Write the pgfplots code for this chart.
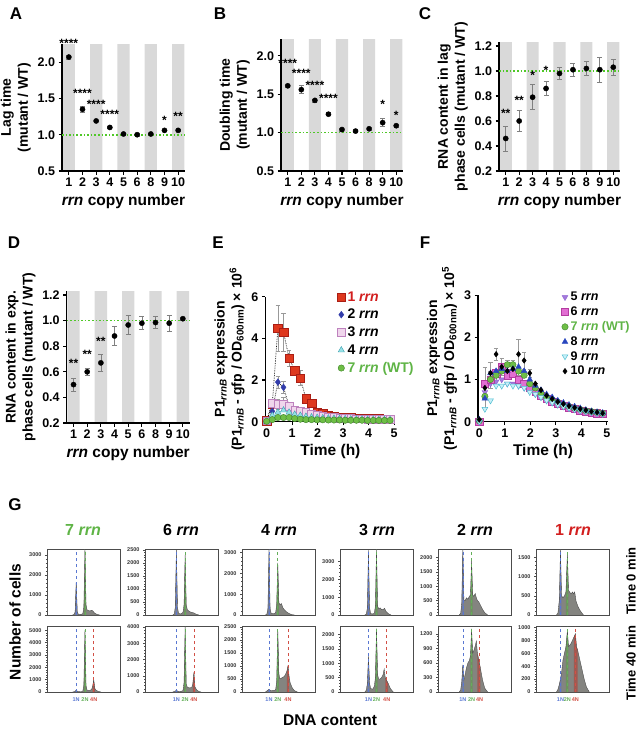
\documentclass[border=0pt]{standalone}
\usepackage{pgfplots}
\pgfplotsset{compat=1.18}
\usepackage{pgfplotstable}
\usepackage{fontspec}
\setmainfont{Liberation Sans}

\definecolor{band}{RGB}{217,217,217}
\definecolor{wtgreen}{RGB}{80,200,40}
\definecolor{ered}{RGB}{222,56,30}
\definecolor{ereddk}{RGB}{170,30,20}
\definecolor{eblue}{RGB}{50,60,170}
\definecolor{epink}{RGB}{240,214,236}
\definecolor{epinkdk}{RGB}{190,130,190}
\definecolor{ecyan}{RGB}{150,225,230}
\definecolor{ecyandk}{RGB}{60,160,175}
\definecolor{egreen}{RGB}{110,190,70}
\definecolor{egreendk}{RGB}{60,130,40}
\definecolor{fpurple}{RGB}{140,90,210}
\definecolor{fmag}{RGB}{225,110,210}
\definecolor{fmagdk}{RGB}{180,60,160}
\definecolor{fblue}{RGB}{40,70,190}
\definecolor{fcyan}{RGB}{200,240,248}
\definecolor{fcyandk}{RGB}{80,190,210}
\definecolor{txtgreen}{RGB}{95,180,70}
\definecolor{txtred}{RGB}{210,30,30}
\definecolor{hgray}{RGB}{132,132,128}
\definecolor{hdark}{RGB}{70,70,70}
\definecolor{hblue}{RGB}{115,125,160}
\definecolor{hgreen}{RGB}{110,145,95}
\definecolor{hred}{RGB}{160,90,82}
\definecolor{l1n}{RGB}{90,120,210}
\definecolor{l2n}{RGB}{100,175,90}
\definecolor{l4n}{RGB}{210,80,70}

\newcommand\tickf{\fontsize{12.5}{14}\selectfont\bfseries}
\newcommand\labf{\fontsize{14}{17}\selectfont\bfseries}
\newcommand\xlabf{\fontsize{15.5}{18}\selectfont\bfseries}
\newcommand\starf{\fontsize{12}{14}\selectfont\bfseries}
\newcommand\legf{\fontsize{14}{17}\selectfont\bfseries}
\newcommand\leggf{\fontsize{12.5}{15}\selectfont\bfseries}
\newcommand\letf{\fontsize{17}{20}\selectfont\bfseries}
\newcommand\gtickf{\fontsize{5.5}{6.5}\selectfont\bfseries}
\newcommand\gtitf{\fontsize{16}{19}\selectfont\bfseries}
\newcommand\timef{\fontsize{13}{15}\selectfont\bfseries}

% growth curves, time in h
\pgfplotstableread{
t    r1   e1   r2   e2   r3   e3   r4   r7
0    0.05 0    0.03 0    0.05 0    0.02 0.02
0.22 0.85 0.12 0.5  0.06 0.9  0.2  0.3  0.1
0.44 4.5  1.1  1.9  0.3  0.85 0.25 0.45 0.2
0.66 4.3  0.9  1.65 0.3  0.85 0.3  0.55 0.2
0.88 3.05 0.4  0.75 0.1  0.75 0.1  0.45 0.2
1.10 2.45 0.2  0.45 0    0.55 0    0.35 0.15
1.32 2.1  0.35 0.35 0    0.5  0    0.3  0.12
1.54 1.1  0.1  0.3  0    0.45 0    0.25 0.1
1.76 0.9  0.1  0.25 0    0.35 0    0.22 0.1
1.98 0.45 0.05 0.22 0    0.3  0    0.2  0.09
2.20 0.38 0    0.2  0    0.25 0    0.18 0.09
2.42 0.3  0    0.18 0    0.22 0    0.17 0.08
2.64 0.26 0    0.17 0    0.2  0    0.16 0.08
2.86 0.23 0    0.16 0    0.18 0    0.15 0.08
3.08 0.21 0    0.15 0    0.17 0    0.14 0.07
3.30 0.19 0    0.14 0    0.16 0    0.13 0.07
3.52 0.18 0    0.13 0    0.15 0    0.12 0.07
3.74 0.17 0    0.12 0    0.14 0    0.12 0.07
3.96 0.16 0    0.12 0    0.13 0    0.11 0.06
4.18 0.15 0    0.11 0    0.12 0    0.11 0.06
4.40 0.14 0    0.11 0    0.12 0    0.1  0.06
4.62 0.13 0    0.1  0    0.11 0    0.1  0.06
4.84 0.12 0    0.1  0    0.11 0    0.1  0.06
}\Edata

\pgfplotstableread{
t    s5   s6   s7   e7   s8   s9   s10  e10
0    0.00 0.00 0.02 0    0.05 0.00 0.05 0
0.22 0.70 0.90 0.60 0.30 0.55 0.30 0.80 0.50
0.44 0.90 1.00 1.00 0.20 1.15 0.50 1.15 0.25
0.66 0.95 1.15 1.10 0.15 1.20 0.85 1.60 0.15
0.88 1.00 1.30 1.20 0.10 1.25 0.85 1.30 0.20
1.10 0.90 1.10 1.35 0.10 1.20 0.90 1.20 0.15
1.32 0.90 1.15 1.35 0.10 1.25 0.85 1.25 0.20
1.54 0.85 1.00 1.20 0.10 1.30 0.85 1.60 0.35
1.76 0.80 0.90 1.10 0.05 1.20 0.80 1.45 0.20
1.98 0.75 0.80 0.90 0    1.00 0.70 1.15 0.10
2.20 0.65 0.72 0.80 0    0.85 0.65 0.90 0
2.42 0.58 0.62 0.68 0    0.75 0.58 0.75 0
2.64 0.50 0.55 0.58 0    0.65 0.50 0.62 0
2.86 0.45 0.48 0.52 0    0.58 0.45 0.54 0
3.08 0.40 0.42 0.46 0    0.50 0.40 0.47 0
3.30 0.36 0.37 0.40 0    0.45 0.36 0.42 0
3.52 0.32 0.33 0.36 0    0.40 0.32 0.37 0
3.74 0.29 0.30 0.32 0    0.36 0.29 0.33 0
3.96 0.26 0.27 0.29 0    0.32 0.26 0.30 0
4.18 0.24 0.24 0.26 0    0.28 0.24 0.27 0
4.40 0.22 0.22 0.24 0    0.25 0.22 0.24 0
4.62 0.20 0.20 0.22 0    0.23 0.20 0.22 0
4.84 0.18 0.19 0.20 0    0.21 0.18 0.20 0
}\Fdata

% DNA content histograms (x: position in box, 0-100)
\pgfplotstableread{
x y
35 0
37 30
38.5 150
40 1650
41.5 150
43 40
46 30
49 60
50.5 400
52 3300
53.5 500
55 250
57 220
59 200
61 240
63 200
65 100
68 40
72 0
}\gTa
\pgfplotstableread{
x y
35 0
38 40
40 150
42 40
46 20
49 50
50.5 600
52 5000
53.5 500
55 150
58 120
61 200
62.5 450
64 1000
65.5 300
67 150
70 60
74 0
}\gBa
\pgfplotstableread{
x y
38 0
40 40
41.5 300
43 2530
44.5 300
46 60
49 40
52 100
53.5 400
55 2300
56.5 400
58 200
61 130
64 100
67 80
70 30
74 0
}\gTb
\pgfplotstableread{
x y
38 0
41 50
43 100
45 50
49 40
52 80
53.5 600
55 4000
56.5 500
58 300
61 250
64 280
65.5 500
67 1200
68.5 300
71 120
74 30
77 0
}\gBb
\pgfplotstableread{
x y
32 0
34 40
35.5 300
37 3170
38.5 300
40 80
43 60
46 100
47.5 500
49 2500
50.5 600
52 500
54 550
56 350
58 250
61 150
64 80
68 20
72 0
}\gTc
\pgfplotstableread{
x y
32 0
35 60
37 100
39 60
43 50
46 80
47.5 400
49 2400
50.5 700
52 500
55 550
58 600
60 700
61.5 800
63 1000
64.5 600
66 350
69 150
72 50
76 0
}\gBc
\pgfplotstableread{
x y
34 0
36 40
37.5 400
39 3650
40.5 400
42 80
45 60
47 100
48.5 500
50 3700
51.5 500
53 350
55 400
57 300
59 300
61 380
63 200
66 80
70 0
}\gTd
\pgfplotstableread{
x y
34 0
36 60
37.5 300
39 1250
40.5 300
42 120
45 100
47 200
48.5 500
50 2200
51.5 600
53 450
55 450
57 500
59 600
60.5 800
62 500
64 400
66 300
69 120
73 0
}\gBd
\pgfplotstableread{
x y
29 0
31 50
32.5 400
34 2300
35.5 500
37 500
39 600
41 550
43 650
44.5 700
46 1900
47.5 700
49 650
51 750
52.5 600
54 500
56 450
58 350
61 200
64 80
68 0
}\gTe
\pgfplotstableread{
x y
29 0
31 40
32.5 200
34 560
35.5 250
37 350
39 500
41 600
43 650
44.5 750
46 1300
47.5 800
49 850
51 950
52.5 1050
54 800
56 650
58 500
61 250
64 80
68 0
}\gBe
\pgfplotstableread{
x y
28 0
30 50
32 400
33.5 1720
35 500
37 450
39 500
41 600
43 1600
44.5 650
46 600
48 550
50 600
51.5 550
53 600
55 350
58 200
61 100
65 0
}\gTf
\pgfplotstableread{
x y
28 0
30 40
32 120
33.5 200
35 300
37 500
39 600
41 700
43 950
44.5 700
46 720
48 750
50 800
52 850
54 900
55.5 700
57 650
60 500
63 350
66 200
69 80
73 0
}\gBf

\pgfplotsset{
  /pgf/number format/assume math mode=true,
  base/.style={scale only axis, anchor=south west,
    axis x line*=bottom, axis y line*=left,
    axis line style={line width=1.1pt,-},
    tick style={black, line width=1.1pt},
    tick align=outside, major tick length=3.5pt,
    ticklabel style={font=\tickf},
    ylabel style={font=\labf, align=center},
    xlabel style={font=\xlabf}, clip=false},
  catax/.style={base, xmin=-0.5, xmax=8.5, xtick={0,...,8},
    xticklabels={1,2,3,4,5,6,8,9,10},
    xlabel={\textit{rrn} copy number},
    yticklabel style={/pgf/number format/fixed, /pgf/number format/fixed zerofill, /pgf/number format/precision=1}},
  bandax/.style={scale only axis, anchor=south west, hide axis, xmin=-0.5, xmax=8.5},
  band/.style={ybar, bar width=0.9, fill=band, draw=none},
  wt/.style={wtgreen, dotted, line width=1.6pt},
  pts/.style={black, only marks, mark=*, mark size=2.6pt,
    error bars/y dir=both, error bars/y explicit,
    error bars/error bar style={black!50, line width=0.7pt},
    error bars/error mark options={rotate=90, mark size=2.5pt, black!50, line width=0.7pt}},
  ebar/.style={error bars/y dir=both, error bars/y explicit,
    error bars/error bar style={black!40, line width=0.5pt},
    error bars/error mark options={rotate=90, mark size=2.2pt, black!40, line width=0.5pt}},
  starmk/.style={black, only marks, mark=text, /pgf/text mark as node=true,
    /pgf/text mark style={font=\starf, inner sep=0pt, yshift=-2.6pt}},
  timeax/.style={base, xmin=-0.05, xmax=5.05, xtick={0,...,5}, xlabel={Time (h)}, ymin=0,
    legend cell align=left,
    legend image code/.code={\draw[mark repeat=2,mark phase=2,##1] plot coordinates {(0pt,0pt) (5pt,0pt) (10pt,0pt)};}},
  dots/.style={forget plot, black, densely dotted, line width=0.7pt},
  gax/.style={scale only axis, anchor=south west, width=73pt, height=66pt,
    xmin=0, xmax=100, ymin=0,
    axis line style={line width=0.6pt, black!70},
    xtick=\empty, ytick pos=left, tick align=outside,
    major tick length=2pt, minor tick length=1pt, minor y tick num=4,
    tick style={black!70, line width=0.4pt},
    yticklabel style={font=\gtickf, black!80},
    scaled y ticks=false,
    /pgf/number format/set thousands separator={}},
  gbx/.style={xtick style={draw=none}, xticklabel style={font=\gtickf},
    xticklabels={\textcolor{l1n}{1N},\textcolor{l2n}{2N},\textcolor{l4n}{4N}}},
}

\newcommand{\gtop}[6]{%
  \addplot[fill=hgray, draw=none] table {#1} \closedcycle;
  \addplot[fill=hblue, draw=none, restrict x to domain=#2] table {#1} \closedcycle;
  \addplot[fill=hgreen, draw=none, restrict x to domain=#3] table {#1} \closedcycle;
  \addplot[hdark, line width=0.35pt] table {#1};
  \addplot[l1n, dashed, line width=0.6pt] coordinates {(#4,0) (#4,#6)};
  \addplot[l2n, dashed, line width=0.6pt] coordinates {(#5,0) (#5,#6)};
}
\newcommand{\gbot}[8]{%
  \addplot[fill=hgray, draw=none] table {#1} \closedcycle;
  \addplot[fill=hblue, draw=none, restrict x to domain=#2] table {#1} \closedcycle;
  \addplot[fill=hgreen, draw=none, restrict x to domain=#3] table {#1} \closedcycle;
  \addplot[fill=hred, draw=none, restrict x to domain=#4] table {#1} \closedcycle;
  \addplot[hdark, line width=0.35pt] table {#1};
  \addplot[l1n, dashed, line width=0.6pt] coordinates {(#5,0) (#5,#8)};
  \addplot[l2n, dashed, line width=0.6pt] coordinates {(#6,0) (#6,#8)};
  \addplot[l4n, dashed, line width=0.6pt] coordinates {(#7,0) (#7,#8)};
}

\begin{document}
\begin{tikzpicture}
\useasboundingbox (0,0) rectangle (642pt,-736pt);

% ---------- A ----------
\begin{axis}[bandax, at={(62pt,-171pt)}, width=123pt, height=127pt, ymin=0.5, ymax=2.25]
\addplot[band] coordinates {(0,2.25) (2,2.25) (4,2.25) (6,2.25) (8,2.25)};
\end{axis}
\begin{axis}[catax, at={(62pt,-171pt)}, width=123pt, height=127pt, ymin=0.5, ymax=2.25,
  ytick={0.5,1,1.5,2}, ylabel={Lag time\\(mutant / WT)}]
\addplot[wt] coordinates {(-0.5,1) (8.5,1)};
\addplot[pts] coordinates {(0,2.07)+-(0,0.025) (1,1.35)+-(0,0.035) (2,1.19)+-(0,0.012)
  (3,1.10)+-(0,0.01) (4,1.01)+-(0,0.015) (5,1.00)+-(0,0.02) (6,1.01)+-(0,0.01)
  (7,1.06)+-(0,0.02) (8,1.06)+-(0,0.01)};
\addplot[starmk, /pgf/text mark={****}] coordinates {(0,2.29) (1,1.60) (2,1.46) (3,1.31)};
\addplot[starmk, /pgf/text mark={*}] coordinates {(7,1.24)};
\addplot[starmk, /pgf/text mark={**}] coordinates {(8,1.29)};
\end{axis}

% ---------- B ----------
\begin{axis}[bandax, at={(281pt,-171pt)}, width=122pt, height=132pt, ymin=0.5, ymax=2.22]
\addplot[band] coordinates {(0,2.22) (2,2.22) (4,2.22) (6,2.22) (8,2.22)};
\end{axis}
\begin{axis}[catax, at={(281pt,-171pt)}, width=122pt, height=132pt, ymin=0.5, ymax=2.22,
  ytick={0.5,1,1.5,2}, ylabel={Doubling time\\(mutant / WT)}]
\addplot[wt] coordinates {(-0.5,1) (8.5,1)};
\addplot[pts] coordinates {(0,1.61)+-(0,0.02) (1,1.56)+-(0,0.05) (2,1.42)+-(0,0.02)
  (3,1.24)+-(0,0.02) (4,1.04)+-(0,0.02) (5,1.02)+-(0,0.02) (6,1.05)+-(0,0.02)
  (7,1.13)+-(0,0.05) (8,1.09)+-(0,0.02)};
\addplot[starmk, /pgf/text mark={****}] coordinates {(0,1.94) (1,1.81) (2,1.65) (3,1.48)};
\addplot[starmk, /pgf/text mark={*}] coordinates {(7,1.40) (8,1.26)};
\end{axis}

% ---------- C ----------
\begin{axis}[bandax, at={(499pt,-171pt)}, width=121pt, height=128.8pt, ymin=0.2, ymax=1.23]
\addplot[band] coordinates {(0,1.23) (2,1.23) (4,1.23) (6,1.23) (8,1.23)};
\end{axis}
\begin{axis}[catax, at={(499pt,-171pt)}, width=121pt, height=128.8pt, ymin=0.2, ymax=1.23,
  ytick={0.2,0.4,...,1.2}, ylabel={RNA content in lag\\phase cells (mutant / WT)}]
\addplot[wt] coordinates {(-0.5,1) (8.5,1)};
\addplot[pts] coordinates {(0,0.46)+-(0,0.10) (1,0.60)+-(0,0.085) (2,0.79)+-(0,0.10)
  (3,0.86)+-(0,0.055) (4,0.98)+-(0,0.05) (5,1.01)+-(0,0.05) (6,1.02)+-(0,0.055)
  (7,1.01)+-(0,0.10) (8,1.03)+-(0,0.065)};
\addplot[starmk, /pgf/text mark={**}] coordinates {(0,0.68) (1,0.787)};
\addplot[starmk, /pgf/text mark={*}] coordinates {(2,0.985) (3,1.025)};
\end{axis}

% ---------- D ----------
\begin{axis}[bandax, at={(66.7pt,-423pt)}, width=123pt, height=131.8pt, ymin=0.2, ymax=1.23]
\addplot[band] coordinates {(0,1.23) (2,1.23) (4,1.23) (6,1.23) (8,1.23)};
\end{axis}
\begin{axis}[catax, at={(66.7pt,-423pt)}, width=123pt, height=131.8pt, ymin=0.2, ymax=1.23,
  ytick={0.2,0.4,...,1.2}, ylabel={RNA content in exp.\\phase cells (mutant / WT)}]
\addplot[wt] coordinates {(-0.5,1) (8.5,1)};
\addplot[pts] coordinates {(0,0.50)+-(0,0.05) (1,0.60)+-(0,0.025) (2,0.67)+-(0,0.065)
  (3,0.88)+-(0,0.075) (4,0.966)+-(0,0.075) (5,0.98)+-(0,0.05) (6,0.985)+-(0,0.045)
  (7,0.98)+-(0,0.06) (8,1.015)+-(0,0.01)};
\addplot[starmk, /pgf/text mark={**}] coordinates {(0,0.69) (1,0.76) (2,0.86)};
\end{axis}

% ---------- E ----------
\begin{axis}[timeax, at={(265.4pt,-421.7pt)}, width=130pt, height=125pt, ymax=6, ytick={0,2,4,6},
  ylabel={P1\textsubscript{\textit{rrnB}} expression\\(P1\textsubscript{\textit{rrnB}} - gfp / OD\textsubscript{600nm}) × 10\textsuperscript{6}},
  legend style={at={(0.55,1.06)}, anchor=north west, draw=none, fill=none, font=\legf, row sep=2.5pt, inner sep=0pt}]
\addplot[dots] table[x=t, y=r1] {\Edata};
\addplot[dots] table[x=t, y=r2] {\Edata};
\addplot[dots] table[x=t, y=r3] {\Edata};
\addplot[ebar, only marks, mark=square*, mark size=4.2pt, mark options={fill=ered, draw=ereddk, line width=0.4pt}]
  table[x=t, y=r1, y error=e1] {\Edata};
\addlegendentry{\textcolor{txtred}{1 \textit{rrn}}}
\addplot[ebar, only marks, mark=diamond*, mark size=3.4pt, mark options={fill=eblue, draw=eblue}]
  table[x=t, y=r2, y error=e2] {\Edata};
\addlegendentry{2 \textit{rrn}}
\addplot[ebar, only marks, mark=square*, mark size=3.8pt, mark options={fill=epink, draw=epinkdk, line width=0.5pt}]
  table[x=t, y=r3, y error=e3] {\Edata};
\addlegendentry{3 \textit{rrn}}
\addplot[only marks, mark=triangle*, mark size=3.6pt, mark options={fill=ecyan, draw=ecyandk, line width=0.4pt}]
  table[x=t, y=r4] {\Edata};
\addlegendentry{4 \textit{rrn}}
\addplot[only marks, mark=*, mark size=3.2pt, mark options={fill=egreen, draw=egreendk, line width=0.4pt}]
  table[x=t, y=r7] {\Edata};
\addlegendentry{\textcolor{txtgreen}{7 \textit{rrn} (WT)}}
\end{axis}

% ---------- F ----------
\begin{axis}[timeax, at={(478pt,-421.7pt)}, width=130pt, height=126.6pt, ymax=3, ytick={0,1,2,3},
  ylabel={P1\textsubscript{\textit{rrnB}} expression\\(P1\textsubscript{\textit{rrnB}} - gfp / OD\textsubscript{600nm}) × 10\textsuperscript{5}},
  legend style={at={(0.64,1.04)}, anchor=north west, draw=none, fill=none, font=\leggf, row sep=0.5pt, inner sep=0pt}]
\addplot[only marks, mark=triangle*, mark size=3.3pt, mark options={rotate=180, fill=fpurple!80, draw=fpurple, line width=0.4pt}]
  table[x=t, y=s5] {\Fdata};
\addlegendentry{5 \textit{rrn}}
\addplot[only marks, mark=square*, mark size=3.6pt, mark options={fill=fmag, draw=fmagdk, line width=0.4pt}]
  table[x=t, y=s6] {\Fdata};
\addlegendentry{6 \textit{rrn}}
\addplot[ebar, only marks, mark=*, mark size=3.2pt, mark options={fill=egreen, draw=egreendk, line width=0.4pt}]
  table[x=t, y=s7, y error=e7] {\Fdata};
\addlegendentry{\textcolor{txtgreen}{7 \textit{rrn} (WT)}}
\addplot[only marks, mark=triangle*, mark size=3.3pt, mark options={fill=fblue, draw=fblue}]
  table[x=t, y=s8] {\Fdata};
\addlegendentry{8 \textit{rrn}}
\addplot[only marks, mark=triangle*, mark size=3.3pt, mark options={rotate=180, fill=fcyan, draw=fcyandk, line width=0.5pt}]
  table[x=t, y=s9] {\Fdata};
\addlegendentry{9 \textit{rrn}}
\addplot[ebar, only marks, mark=diamond*, mark size=2.8pt, mark options={fill=black, draw=black}]
  table[x=t, y=s10, y error=e10] {\Fdata};
\addlegendentry{10 \textit{rrn}}
\end{axis}

% ---------- G ----------
\begin{axis}[gax, at={(47pt,-615pt)}, ymax=3300, ytick={0,1000,2000,3000}]
\gtop{\gTa}{38.5:41.5}{50.5:53.5}{40}{52}{3300}
\end{axis}
\begin{axis}[gax, at={(145pt,-615pt)}, ymax=2530, ytick={0,500,...,2500}]
\gtop{\gTb}{41.5:44.5}{53.5:56.5}{43}{55}{2530}
\end{axis}
\begin{axis}[gax, at={(242pt,-615pt)}, ymax=3170, ytick={0,1000,2000,3000}]
\gtop{\gTc}{35.5:38.5}{47.5:50.5}{37}{49}{3170}
\end{axis}
\begin{axis}[gax, at={(340pt,-615pt)}, ymax=3700, ytick={0,1000,2000,3000}]
\gtop{\gTd}{37.5:40.5}{48.5:51.5}{39}{50}{3700}
\end{axis}
\begin{axis}[gax, at={(438pt,-615pt)}, ymax=2300, ytick={0,500,...,2000}]
\gtop{\gTe}{32.5:35.5}{44.5:47.5}{34}{46}{2300}
\end{axis}
\begin{axis}[gax, at={(536pt,-615pt)}, ymax=1720, ytick={0,500,1000,1500}]
\gtop{\gTf}{32:35}{41:44.5}{33.5}{43}{1720}
\end{axis}

\begin{axis}[gax, gbx, at={(47pt,-692pt)}, ymax=5350, ytick={0,1000,...,5000}, xtick={40,52,64}]
\gbot{\gBa}{38:42}{50.5:53.5}{62.5:65.5}{40}{52}{64}{5350}
\end{axis}
\begin{axis}[gax, gbx, at={(145pt,-692pt)}, ymax=4060, ytick={0,1000,...,4000}, xtick={43,55,67}]
\gbot{\gBb}{41:45}{53.5:56.5}{65.5:68.5}{43}{55}{67}{4060}
\end{axis}
\begin{axis}[gax, gbx, at={(242pt,-692pt)}, ymax=2530, ytick={0,500,...,2500}, xtick={37,49,63}]
\gbot{\gBc}{35:39}{47.5:50.5}{61.5:64.5}{37}{49}{63}{2530}
\end{axis}
\begin{axis}[gax, gbx, at={(340pt,-692pt)}, ymax=2290, ytick={0,500,...,2000}, xtick={39,50,64}]
\gbot{\gBd}{37.5:40.5}{48.5:51.5}{62:66}{39}{50}{64}{2290}
\end{axis}
\begin{axis}[gax, gbx, at={(438pt,-692pt)}, ymax=1360, ytick={0,300,...,1200}, xtick={34,46,57}]
\gbot{\gBe}{32.5:35.5}{44.5:47.5}{54:58}{34}{46}{57}{1360}
\end{axis}
\begin{axis}[gax, gbx, at={(536pt,-692pt)}, ymax=1020, ytick={0,200,...,1000}, xtick={33.5,43,54}]
\gbot{\gBf}{32:35}{41:44.5}{52:57}{33.5}{43}{54}{1020}
\end{axis}

% ---------- texts ----------
\node[font=\letf] at (16pt,-14pt) {A};
\node[font=\letf] at (220pt,-14pt) {B};
\node[font=\letf] at (425pt,-14pt) {C};
\node[font=\letf] at (14pt,-243pt) {D};
\node[font=\letf] at (218pt,-243pt) {E};
\node[font=\letf] at (425pt,-243pt) {F};
\node[font=\letf] at (15pt,-505pt) {G};

\node[font=\gtitf] at (83pt,-530pt) {\textcolor{txtgreen}{7 \textit{rrn}}};
\node[font=\gtitf] at (181pt,-530pt) {6 \textit{rrn}};
\node[font=\gtitf] at (279pt,-530pt) {4 \textit{rrn}};
\node[font=\gtitf] at (377pt,-530pt) {3 \textit{rrn}};
\node[font=\gtitf] at (475pt,-530pt) {2 \textit{rrn}};
\node[font=\gtitf] at (573pt,-530pt) {\textcolor{txtred}{1 \textit{rrn}}};

\node[font=\xlabf, rotate=90] at (15pt,-622pt) {Number of cells};
\node[font=\xlabf] at (330pt,-720pt) {DNA content};
\node[font=\timef, rotate=90] at (631pt,-581pt) {Time 0 min};
\node[font=\timef, rotate=90] at (631pt,-663pt) {Time 40 min};
\end{tikzpicture}
\end{document}
